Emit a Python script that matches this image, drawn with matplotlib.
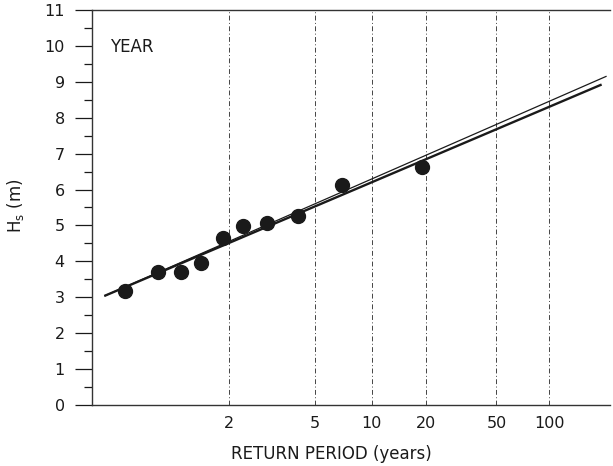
import numpy as np
import matplotlib
matplotlib.use("Agg")
import matplotlib.pyplot as plt
from matplotlib.ticker import FixedLocator, FixedFormatter, MultipleLocator

plt.rcParams['font.family'] = ['DejaVu Sans']

# Data (return period in years, Hs in m)
point_T = [1.068, 1.201, 1.367, 1.575, 1.889, 2.278, 2.911, 4.12, 6.89, 18.9]
point_H = [3.17, 3.69, 3.69, 3.94, 4.65, 4.98, 5.08, 5.26, 6.13, 6.62]

thick_T = [1.0275, 199.5]
thick_H = [3.035, 8.925]
thin_T = [1.0275, 213.0]
thin_H = [3.035, 9.157]

xtick_T = [2, 5, 10, 20, 50, 100]
xtick_labels = ['2', '5', '10', '20', '50', '100']
yticks = list(range(0, 12))


def forward(T):
    T = np.asarray(T, dtype=float)
    Tc = np.maximum(T, 1.0 + 1e-9)
    with np.errstate(all='ignore'):
        return -np.log(-np.log(1.0 - 1.0 / Tc))


def inverse(y):
    y = np.asarray(y, dtype=float)
    with np.errstate(all='ignore'):
        return 1.0 / (1.0 - np.exp(-np.exp(-y)))


fig = plt.figure(figsize=(6.13, 4.66), dpi=100)
ax = fig.add_axes([0.150, 0.131, 0.845, 0.8475])
ax.set_xscale('function', functions=(forward, inverse))
ax.set_xlim(inverse(-1.450), inverse(5.403))
ax.set_ylim(0, 11)

ink = '#1a1a1a'
for t in xtick_T:
    ax.axvline(t, color='#444444', lw=0.7, ls=(0, (5, 2.5, 1, 2.5)), zorder=1)

ax.plot(thin_T, thin_H, color=ink, lw=0.9, zorder=2, solid_capstyle='butt')
ax.plot(thick_T, thick_H, color=ink, lw=1.7, zorder=3, solid_capstyle='butt')
ax.plot(point_T, point_H, 'o', color=ink, ms=10, zorder=4, mec=ink)

fs = 11.5
ax.xaxis.set_major_locator(FixedLocator(xtick_T))
ax.xaxis.set_major_formatter(FixedFormatter(xtick_labels))
ax.xaxis.set_minor_locator(FixedLocator([]))
ax.tick_params(axis='x', length=0, pad=8, labelsize=fs, colors=ink)

ax.yaxis.set_major_locator(FixedLocator(yticks))
ax.yaxis.set_minor_locator(MultipleLocator(0.5))
ax.tick_params(axis='y', which='major', direction='out', length=12.5, width=0.9,
               pad=7, labelsize=fs, colors=ink)
ax.tick_params(axis='y', which='minor', direction='out', length=5.5, width=0.9, colors=ink)

ax.spines['right'].set_visible(False)
for s in ['left', 'top', 'bottom']:
    ax.spines[s].set_linewidth(1.0)
    ax.spines[s].set_color('#333333')

ax.set_xlabel('RETURN PERIOD (years)', fontsize=12, color=ink)
ax.xaxis.set_label_coords(0.463, -0.102)
ax.set_ylabel(r'H$_\mathregular{s}$ (m)', fontsize=12, color=ink)
ax.yaxis.set_label_coords(-0.128, 0.505)

ax.text(0.035, 0.906, 'YEAR', transform=ax.transAxes, fontsize=12, color=ink,
        ha='left', va='center')

fig.savefig('out.png', dpi=100)
